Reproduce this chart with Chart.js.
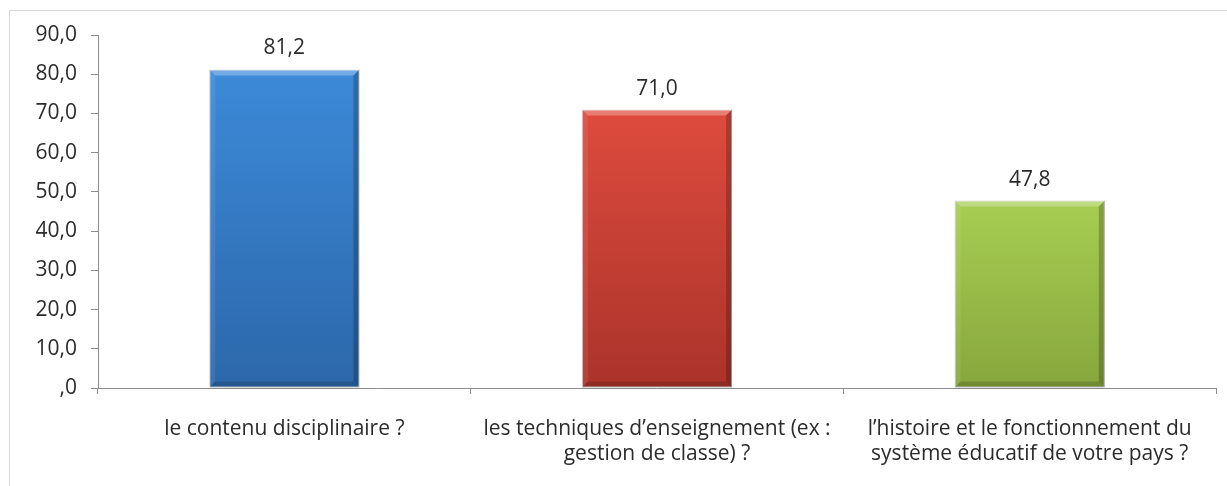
<!DOCTYPE html>
<html>
<head>
<meta charset="utf-8">
<script src="https://cdn.jsdelivr.net/npm/chart.js@4/dist/chart.umd.min.js"></script>
<style>
    html, body { margin: 0; padding: 0; background: #ffffff; }
    #wrap { position: relative; width: 1227px; height: 486px; }
</style>
</head>
<body>
<div id="wrap"><canvas id="chart"></canvas></div>
<script>
'use strict';

/******************************************************************************************
DATA
******************************************************************************************/

var categories = [
    ['le contenu disciplinaire ?'],
    ['les techniques d\u2019enseignement (ex :', 'gestion de classe) ?'],
    ['l\u2019histoire et le fonctionnement du', 'syst\u00e8me \u00e9ducatif de votre pays ?']
];
var values = [81.2, 71.0, 47.8];
var y_ticks = [0, 10, 20, 30, 40, 50, 60, 70, 80, 90];

// top / bottom colour of each bar
var color_top = ['#3c8ad9', '#de4b3e', '#a7ce52'];
var color_bottom = ['#2c67aa', '#ab332a', '#87a63d'];

var font_family = '"Open Sans", Lato, sans-serif';
var font_size = 21;
var text_color = '#2b2b2b';
var axis_color = '#8c8c8c';


// french number format: 81,2 / ,0
function fmt(v) {
    if (v === 0) return ',0';
    return v.toFixed(1).replace('.', ',');
}


/******************************************************************************************
PLUGINS
******************************************************************************************/

// light grey frame round the chart (opens to the right / bottom)
var frame_plugin = {
    id: 'frame',
    beforeDraw: function(chart) {
        var ctx = chart.ctx;
        ctx.save();
        ctx.strokeStyle = '#d9d9d9';
        ctx.lineWidth = 1;
        ctx.strokeRect(9.5, 10.5, 1400, 600);
        ctx.restore();
    }
};

// bevel edges + value labels
var bar_plugin = {
    id: 'bar_extras',
    afterDatasetsDraw: function(chart) {
        var ctx = chart.ctx;
        var meta = chart.getDatasetMeta(0);
        ctx.save();
        meta.data.forEach(function(bar, i) {
            var l = bar.x - bar.width / 2;
            var r = bar.x + bar.width / 2;
            var t = bar.y;
            var b = bar.base;
            var s = 6;

            // top bevel
            ctx.fillStyle = 'rgba(255,255,255,0.28)';
            ctx.beginPath();
            ctx.moveTo(l, t); ctx.lineTo(r, t); ctx.lineTo(r - s, t + s); ctx.lineTo(l + s, t + s);
            ctx.closePath(); ctx.fill();
            // left bevel
            ctx.fillStyle = 'rgba(255,255,255,0.08)';
            ctx.beginPath();
            ctx.moveTo(l, t); ctx.lineTo(l + s, t + s); ctx.lineTo(l + s, b - s); ctx.lineTo(l, b);
            ctx.closePath(); ctx.fill();
            // right bevel
            ctx.fillStyle = 'rgba(0,0,0,0.22)';
            ctx.beginPath();
            ctx.moveTo(r, t); ctx.lineTo(r - s, t + s); ctx.lineTo(r - s, b - s); ctx.lineTo(r, b);
            ctx.closePath(); ctx.fill();
            // bottom bevel
            ctx.fillStyle = 'rgba(0,0,0,0.16)';
            ctx.beginPath();
            ctx.moveTo(l, b); ctx.lineTo(l + s, b - s); ctx.lineTo(r - s, b - s); ctx.lineTo(r, b);
            ctx.closePath(); ctx.fill();

            // value label
            ctx.fillStyle = text_color;
            ctx.font = font_size + 'px ' + font_family;
            ctx.textAlign = 'center';
            ctx.textBaseline = 'middle';
            ctx.fillText(fmt(values[i]), bar.x, t - 21);
        });
        ctx.restore();
    }
};


/******************************************************************************************
CHART
******************************************************************************************/

var ctx = document.getElementById('chart').getContext('2d');
var myChart = new Chart(ctx, {
    type: 'bar',
    data: {
        labels: categories,
        datasets: [{
            data: values,
            backgroundColor: function(context) {
                var chart = context.chart;
                var i = context.dataIndex;
                if (!chart.chartArea || !chart.scales.y) return color_top[i];
                var top = chart.scales.y.getPixelForValue(values[i]);
                var bottom = chart.scales.y.getPixelForValue(0);
                var g = chart.ctx.createLinearGradient(0, top, 0, bottom);
                g.addColorStop(0, color_top[i]);
                g.addColorStop(1, color_bottom[i]);
                return g;
            },
            borderColor: 'rgba(0,0,0,0.25)',
            borderWidth: 1,
            borderSkipped: false,
            categoryPercentage: 1.0,
            barPercentage: 0.403
        }]
    },
    options: {
        responsive: true,
        maintainAspectRatio: false,
        animation: false,
        layout: {
            padding: { left: 0, top: 35, right: 11, bottom: 0 }
        },
        plugins: {
            legend: { display: false },
            tooltip: { enabled: false }
        },
        scales: {
            x: {
                afterFit: function(scale) { scale.height = 98; },
                grid: {
                    offset: true,
                    drawOnChartArea: false,
                    drawTicks: true,
                    tickLength: 6,
                    color: axis_color
                },
                border: { display: true, color: axis_color },
                ticks: {
                    color: text_color,
                    padding: 22,
                    maxRotation: 0,
                    autoSkip: false,
                    font: { family: font_family, size: font_size, lineHeight: 1.2 }
                }
            },
            y: {
                min: 0,
                max: 90,
                afterFit: function(scale) { scale.width = 98; },
                afterBuildTicks: function(scale) {
                    scale.ticks = y_ticks.map(function(v) { return { value: v }; });
                },
                grid: {
                    drawOnChartArea: false,
                    drawTicks: true,
                    tickLength: 7,
                    color: axis_color
                },
                border: { display: true, color: axis_color },
                ticks: {
                    color: text_color,
                    padding: 14,
                    font: { family: font_family, size: font_size },
                    callback: function(value) { return fmt(value); }
                }
            }
        }
    },
    plugins: [frame_plugin, bar_plugin]
});
</script>
</body>
</html>
